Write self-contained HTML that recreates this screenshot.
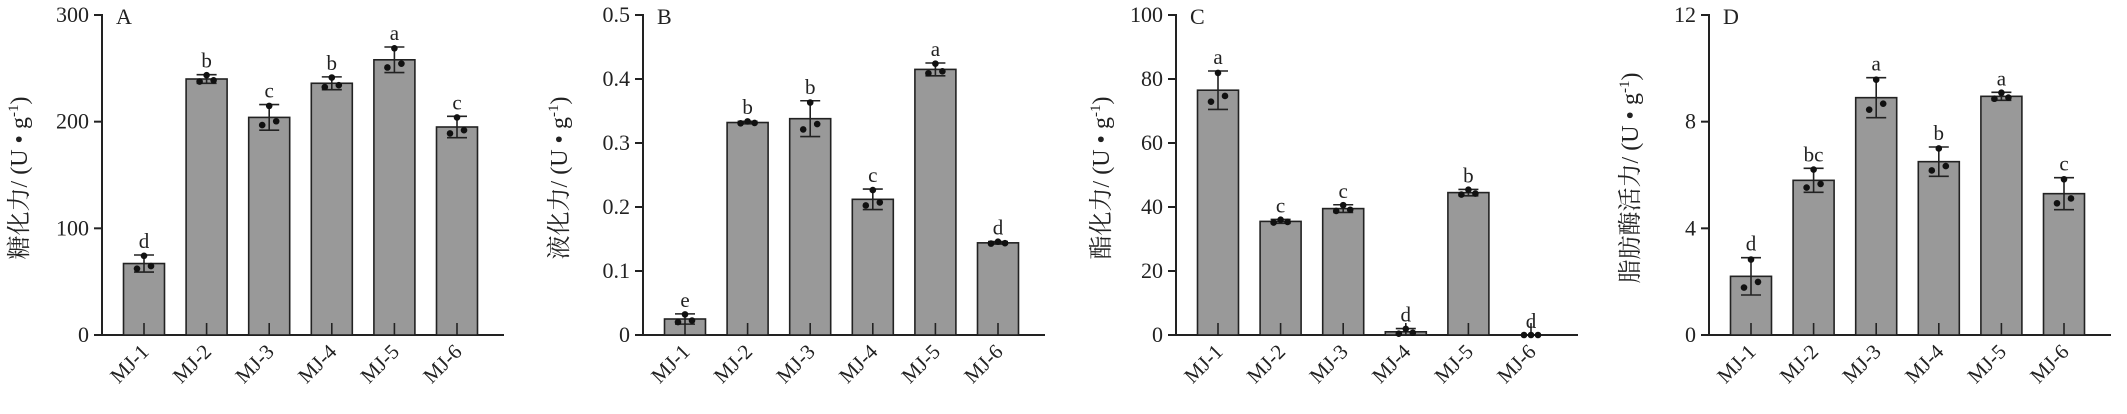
<!DOCTYPE html>
<html><head><meta charset="utf-8"><style>
body{margin:0;background:#fff;width:2127px;height:409px;overflow:hidden}
svg text{font-family:"Liberation Serif","Noto Serif CJK SC","Noto Sans CJK SC",serif;fill:#222}
</style></head><body>
<svg id="s" width="2127" height="409" xmlns="http://www.w3.org/2000/svg"></svg>
<script>
const P=[
{ax:102,max:300,ticks:[0,100,200,300],tl:['0','100','200','300'],L:'A',yl:'糖化力/ (U • g',ylx:25,
 m:[67,240,204,236,258,195],e:[8,4,12,6,12,10],s:['d','b','c','b','a','c']},
{ax:643,max:0.5,ticks:[0,0.1,0.2,0.3,0.4,0.5],tl:['0','0.1','0.2','0.3','0.4','0.5'],L:'B',yl:'液化力/ (U • g',ylx:565,
 m:[0.025,0.332,0.338,0.212,0.415,0.144],e:[0.008,0.002,0.028,0.016,0.01,0.002],s:['e','b','b','c','a','d']},
{ax:1176,max:100,ticks:[0,20,40,60,80,100],tl:['0','20','40','60','80','100'],L:'C',yl:'酯化力/ (U • g',ylx:1107,
 m:[76.5,35.5,39.5,1,44.5,0],e:[6,0.6,1.2,1,1,0],s:['a','c','c','d','b','d']},
{ax:1709,max:12,ticks:[0,4,8,12],tl:['0','4','8','12'],L:'D',yl:'脂肪酶活力/ (U • g',ylx:1636,
 m:[2.2,5.8,8.9,6.5,8.95,5.3],e:[0.7,0.45,0.75,0.55,0.15,0.6],s:['d','bc','a','b','a','c']}
];
const y0=335,yt=15;let h='';
const lab=['MJ-1','MJ-2','MJ-3','MJ-4','MJ-5','MJ-6'];
for(const p of P){
 const Y=v=>y0-(v/p.max)*(y0-yt);
 h+=`<line x1="${p.ax}" y1="${yt-1}" x2="${p.ax}" y2="${y0+1}" stroke="#222" stroke-width="2"/>`;
 h+=`<line x1="${p.ax-1}" y1="${y0}" x2="${p.ax+402}" y2="${y0}" stroke="#222" stroke-width="2"/>`;
 p.ticks.forEach((t,i)=>{const y=Y(t);h+=`<line x1="${p.ax-8}" y1="${y}" x2="${p.ax}" y2="${y}" stroke="#222" stroke-width="2"/>`;
  h+=`<text x="${p.ax-13}" y="${y+7}" font-size="22" text-anchor="end">${p.tl[i]}</text>`;});
 h+=`<text x="${p.ax+14}" y="${yt+9}" font-size="22">${p.L}</text>`;
 h+=`<text transform="translate(${p.ylx+2},178) rotate(-90)" font-size="24" text-anchor="middle">${p.yl}<tspan font-size="15" dy="-9">-1</tspan><tspan dy="9">)</tspan></text>`;
 for(let i=0;i<6;i++){
  const c=p.ax+42+i*62.6,m=p.m[i],e=p.e[i],ym=Y(m);
  h+=`<rect x="${c-20.5}" y="${ym}" width="41" height="${y0-ym}" fill="#999" stroke="#222" stroke-width="1.6"/>`;
  h+=`<line x1="${c}" y1="${y0-12}" x2="${c}" y2="${y0}" stroke="#222" stroke-width="1.6"/>`;
  const yh=Y(m+e),yl=Y(Math.max(m-e,0));
  h+=`<line x1="${c}" y1="${yh}" x2="${c}" y2="${yl}" stroke="#222" stroke-width="1.6"/>`;
  h+=`<line x1="${c-10}" y1="${yh}" x2="${c+10}" y2="${yh}" stroke="#222" stroke-width="1.6"/>`;
  h+=`<line x1="${c-10}" y1="${yl}" x2="${c+10}" y2="${yl}" stroke="#222" stroke-width="1.6"/>`;
  [[-7,m-e*0.6],[0,m+e*0.9],[7,m-e*0.3]].forEach(([dx,v])=>{h+=`<circle cx="${c+dx}" cy="${Y(Math.max(v,0))}" r="3.3" fill="#111"/>`;});
  h+=`<text x="${c}" y="${yh-7}" font-size="21" text-anchor="middle">${p.s[i]}</text>`;
  h+=`<text transform="translate(${c+6},353) rotate(-45)" font-size="21" text-anchor="end">${lab[i]}</text>`;
 }
}
document.getElementById('s').innerHTML=h;
</script>
</body></html>
